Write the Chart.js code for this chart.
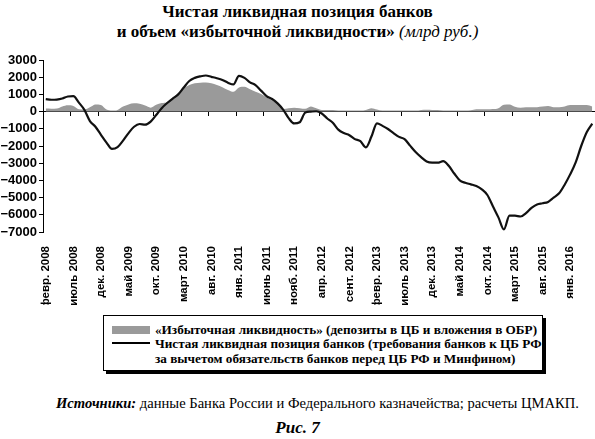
<!DOCTYPE html>
<html><head><meta charset="utf-8">
<script src="https://cdn.jsdelivr.net/npm/chart.js@4.4.1/dist/chart.umd.min.js"></script>
<style>
html,body{margin:0;padding:0;background:#fff;}
body{width:595px;height:439px;position:relative;overflow:hidden;font-family:"Liberation Serif",serif;color:#000;}
#title{position:absolute;left:0;top:2px;width:595px;text-align:center;font-weight:bold;font-size:17px;line-height:20px;}
#title i{font-weight:normal;}
#wrap{position:absolute;left:0;top:50px;width:595px;height:255px;}
#legend{position:absolute;left:103px;top:315px;width:438px;height:54px;border:1px solid #000;box-shadow:3px 3px 0 #000;font-weight:bold;font-size:13.2px;line-height:15px;}
.row{position:absolute;left:51px;white-space:nowrap;}
.sw{position:absolute;left:8px;width:38px;}
#source{position:absolute;left:0;top:395px;width:595px;text-align:center;font-size:14.6px;padding-left:40px;box-sizing:border-box;}
#fig{position:absolute;left:0;top:418px;width:595px;text-align:center;font-size:17px;font-style:italic;font-weight:bold;}
</style></head>
<body>
<div id="title">Чистая ликвидная позиция банков<br>и объем «избыточной ликвидности» <i>(млрд руб.)</i></div>
<div id="wrap"><canvas id="c"></canvas></div>
<div id="legend">
  <div class="sw" style="top:10px;height:8px;background:#9a9a9a;"></div>
  <div class="row" style="top:6px;">«Избыточная ликвидность» (депозиты в ЦБ и вложения в ОБР)</div>
  <div class="sw" style="top:26px;height:2px;background:#000;"></div>
  <div class="row" style="top:20px;">Чистая ликвидная позиция банков (требования банков к ЦБ РФ<br>за вычетом обязательств банков перед ЦБ РФ и Минфином)</div>
</div>
<div id="source"><b><i>Источники:</i></b> данные Банка России и Федерального казначейства; расчеты ЦМАКП.</div>
<div id="fig">Рис. 7</div>
<script>
// Month names and tick labels
const monthNames = ["янв.","февр.","март","апр.","май","июнь","июль","авг.","сент.","окт.","нояб.","дек."];
const startYear = 2008, startMonth = 1; // февр. 2008
const nMonths = 100;
const categories = [];
for (let i = 0; i < nMonths; i++) {
  const m = (startMonth + i) % 12;
  const y = startYear + Math.floor((startMonth + i) / 12);
  categories.push(monthNames[m] + " " + y);
}
const labelEvery = 5;
const yTicks = [3000,2000,1000,0,-1000,-2000,-3000,-4000,-5000,-6000,-7000];

// Net liquidity position of banks (bn rub)
const netPosition = [730,690,700,760,880,900,520,100,-550,-880,
-1350,-1800,-2170,-2070,-1690,-1250,-880,-720,-760,-580,
-200,200,500,760,1000,1400,1780,1960,2050,2100,
2020,1940,1840,1680,1580,2080,1960,1700,1540,1220,
900,730,480,120,-380,-690,-620,-60,0,20,
-110,-400,-650,-1050,-1250,-1370,-1600,-1720,-2080,-1450,
-680,-830,-1010,-1250,-1470,-1600,-1980,-2350,-2650,-2900,
-2970,-2970,-2880,-3150,-3600,-4000,-4140,-4230,-4330,-4520,
-4850,-5500,-6150,-6850,-6050,-6050,-6100,-5900,-5600,-5400,
-5330,-5250,-5000,-4750,-4250,-3650,-2950,-2000,-1200,-700];

// Excess liquidity (deposits at CB and OBR)
const excessLiquidity = [180,170,180,300,370,330,140,120,250,420,
380,120,60,100,300,420,480,450,350,230,
400,500,550,800,1050,1350,1550,1650,1680,1690,
1650,1550,1420,1260,1150,1400,1450,1300,1150,1020,
830,650,450,150,200,230,200,160,300,200,
100,100,90,60,60,60,60,60,100,200,
120,60,60,60,60,60,60,60,100,110,
100,90,60,60,60,60,60,80,130,140,
140,150,200,400,420,280,230,250,250,260,
300,330,260,250,300,380,390,390,380,300];

const zeroPad = s => { s.paddingLeft = 0; s.paddingRight = 0; s.paddingTop = 0; s.paddingBottom = 0; };

new Chart(document.getElementById('c'), {
  type: 'line',
  data: {
    labels: categories,
    datasets: [
      { label: 'Чистая ликвидная позиция банков', data: netPosition, borderColor: '#111', borderWidth: 2.2,
        pointRadius: 0, fill: false, cubicInterpolationMode: 'monotone', xAxisID: 'x' },
      { label: '«Избыточная ликвидность»', data: excessLiquidity, borderWidth: 0, borderColor: 'rgba(0,0,0,0)',
        backgroundColor: '#9a9a9a', pointRadius: 0, fill: 'origin', cubicInterpolationMode: 'monotone', xAxisID: 'x' }
    ]
  },
  options: {
    responsive: true, maintainAspectRatio: false, animation: false,
    layout: { padding: { top: 10, right: 0, left: 0, bottom: 0 } },
    plugins: { legend: { display: false }, tooltip: { enabled: false } },
    scales: {
      x: {
        type: 'category', position: 'bottom', offset: true,
        grid: { display: false, offset: true }, border: { display: false },
        ticks: { autoSkip: false, minRotation: 90, maxRotation: 90, padding: 6, color: '#000',
          font: { family: 'Liberation Sans', size: 11.5, weight: 'bold' },
          callback: function(v, i) { return i % labelEvery === 0 ? this.getLabelForValue(v) : null; } },
        afterFit: s => { s.height = 73; zeroPad(s); }
      },
      x2: {
        type: 'category', position: { y: 0 }, offset: true,
        grid: { display: true, offset: true, drawOnChartArea: false, drawTicks: true, tickLength: 4, lineWidth: 1,
          color: ctx => (ctx.index !== undefined && ctx.index % labelEvery === 0) ? '#000' : 'rgba(0,0,0,0)' },
        border: { display: true, color: '#000', width: 1 },
        ticks: { display: false, autoSkip: false },
        afterFit: s => { s.height = 0; zeroPad(s); }
      },
      y: {
        min: -7000, max: 3000,
        grid: { drawOnChartArea: false, drawTicks: true, tickLength: 4, color: '#000' },
        border: { display: true, color: '#000', width: 1 },
        afterBuildTicks: s => { s.ticks = yTicks.map(v => ({ value: v })); },
        ticks: { autoSkip: false, padding: 2, color: '#000', font: { family: 'Liberation Sans', size: 13, weight: 'bold' },
          callback: v => (v < 0 ? '\u2212' + Math.abs(v) : String(v)) },
        afterFit: s => { s.width = 43; zeroPad(s); }
      }
    }
  }
});
</script>
</body></html>
